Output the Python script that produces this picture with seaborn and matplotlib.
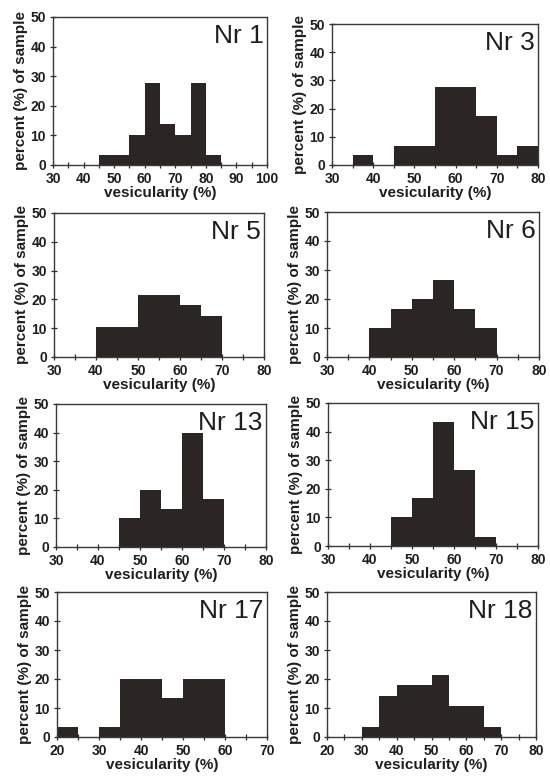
import matplotlib
matplotlib.use("Agg")
import matplotlib.pyplot as plt
import seaborn as sns
from matplotlib.ticker import MultipleLocator

sns.set_theme(style="white")
plt.rcParams['font.family'] = ['Liberation Sans', 'DejaVu Sans']

# ---- data (bin left edges, bin width 5 %, percent of sample) ----
samples = ["Nr 1", "Nr 3", "Nr 5", "Nr 6", "Nr 13", "Nr 15", "Nr 17", "Nr 18"]

nr1_bins = [45, 50, 55, 60, 65, 70, 75, 80]
nr1_pct = [3.4, 3.4, 10.3, 27.6, 13.8, 10.3, 27.6, 3.4]

nr3_bins = [35, 40, 45, 50, 55, 60, 65, 70, 75]
nr3_pct = [3.4, 0.0, 6.9, 6.9, 27.6, 27.6, 17.2, 3.4, 6.9]

nr5_bins = [40, 45, 50, 55, 60, 65]
nr5_pct = [10.3, 10.3, 21.4, 21.4, 17.9, 14.3]

nr6_bins = [40, 45, 50, 55, 60, 65]
nr6_pct = [10.0, 16.7, 20.0, 26.7, 16.7, 10.0]

nr13_bins = [45, 50, 55, 60, 65]
nr13_pct = [10.0, 20.0, 13.3, 39.7, 16.7]

nr15_bins = [45, 50, 55, 60, 65]
nr15_pct = [10.0, 16.7, 43.3, 26.7, 3.3]

nr17_bins = [20, 25, 30, 35, 40, 45, 50, 55]
nr17_pct = [3.3, 0.0, 3.3, 20.0, 20.0, 13.3, 20.0, 20.0]

nr18_bins = [30, 35, 40, 45, 50, 55, 60, 65]
nr18_pct = [3.6, 14.3, 17.9, 17.9, 21.4, 10.7, 10.7, 3.6]

x_limits = [(30, 100), (30, 80), (30, 80), (30, 80), (30, 80), (30, 80), (20, 70), (20, 80)]
x_ticks = [[30, 40, 50, 60, 70, 80, 90, 100], [30, 40, 50, 60, 70, 80],
           [30, 40, 50, 60, 70, 80], [30, 40, 50, 60, 70, 80],
           [30, 40, 50, 60, 70, 80], [30, 40, 50, 60, 70, 80],
           [20, 30, 40, 50, 60, 70], [20, 30, 40, 50, 60, 70, 80]]
y_ticks = [0, 10, 20, 30, 40, 50]
bin_width = 5

all_bins = [nr1_bins, nr3_bins, nr5_bins, nr6_bins, nr13_bins, nr15_bins, nr17_bins, nr18_bins]
all_pct = [nr1_pct, nr3_pct, nr5_pct, nr6_pct, nr13_pct, nr15_pct, nr17_pct, nr18_pct]

# ---- layout (pixel boxes: left, right, top, bottom) ----
W, H = 550, 777
boxes = [(53, 267, 17, 165), (332, 538, 24, 165),
         (54, 264, 213, 357), (327, 539, 212, 357),
         (56, 266, 404, 547), (328, 538, 403, 546),
         (57, 267, 592, 737), (327, 536, 592, 737)]

bar_color = "#2b2523"
ink = "#2a2a2a"

fig = plt.figure(figsize=(W / 100, H / 100), dpi=100)
fig.patch.set_facecolor("white")

for i, (name, bins, pct, xl, xt, box) in enumerate(zip(samples, all_bins, all_pct, x_limits, x_ticks, boxes)):
    l, r, t, b = box
    ax = fig.add_axes([l / W, 1 - b / H, (r - l) / W, (b - t) / H])
    edges = list(bins) + [bins[-1] + bin_width]
    sns.histplot(x=bins, weights=pct, bins=edges, ax=ax, color=bar_color,
                 alpha=1.0, linewidth=0, edgecolor=bar_color, stat="count")
    ax.set_xlim(*xl)
    ax.set_ylim(0, 50)
    ax.set_xticks(xt)
    ax.set_yticks(y_ticks)
    ax.xaxis.set_minor_locator(MultipleLocator(5))
    ax.tick_params(axis="both", which="major", direction="inout", length=5, width=0.9,
                   color=ink, labelsize=10, labelcolor="#1e1e1e", pad=2.5,
                   bottom=True, left=True, top=False, right=False)
    ax.tick_params(axis="x", which="minor", direction="inout", length=4, width=0.9,
                   color=ink, bottom=True, top=False)
    for lab in ax.get_xticklabels() + ax.get_yticklabels():
        lab.set_fontweight("bold")
    for sp in ax.spines.values():
        sp.set_visible(True)
        sp.set_color("#3a3a3a")
        sp.set_linewidth(1.0)
    ax.set_xlabel("vesicularity (%)", fontsize=11, fontweight="bold", color="#1e1e1e", labelpad=0)
    ax.set_ylabel("percent (%) of sample", fontsize=11, fontweight="bold", color="#1e1e1e", labelpad=2)
    ax.text(0.985, 0.95, name, transform=ax.transAxes, ha="right", va="top",
            fontsize=19, color="#1e1e1e")
    ax.grid(False)

fig.savefig("out.png", dpi=100, facecolor="white")
